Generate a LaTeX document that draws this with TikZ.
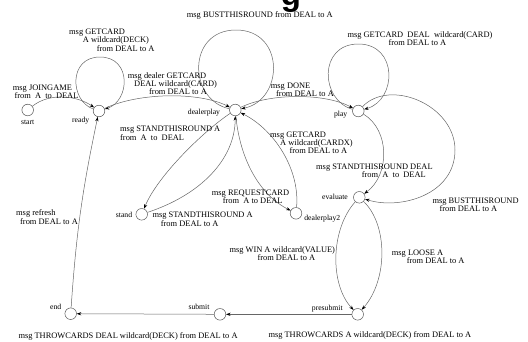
\documentclass[tikz,border=0pt]{standalone}
\usepackage{fontspec}
\setmainfont{Liberation Serif}
\newfontfamily\titlefont{Liberation Sans}
\usetikzlibrary{arrows.meta}
\begin{document}
\begin{tikzpicture}[x=1pt,y=-1pt,
  state/.style={circle,draw=black!65,line width=0.5pt,minimum size=11.6pt,inner sep=0pt},
  slabel/.style={font=\fontsize{7.7}{8}\selectfont,inner sep=0pt},
  lbl/.style={font=\fontsize{8.4}{8.4}\selectfont,inner sep=0pt,align=left,anchor=north west},
  edge/.style={draw=black!60,line width=0.5pt,-{Stealth[length=4.5pt,width=3.2pt,color=black]}}]
\useasboundingbox (0,0) rectangle (528,341);
\begin{scope}
\clip (0,0) rectangle (528,341);
\node[font=\titlefont\fontsize{33}{33}\selectfont\bfseries,anchor=base,inner sep=0pt] (title) at (291,5) {g};
\end{scope}

% states
\node[state] (start) at (27.7,110) {};
\node[state] (ready) at (99,111) {};
\node[state] (dealerplay) at (235.3,110) {};
\node[state] (play) at (358.3,111) {};
\node[state] (stand) at (141.7,214.3) {};
\node[state] (dealerplay2) at (296,213.3) {};
\node[state] (evaluate) at (359.3,197.3) {};
\node[state] (end) at (70.7,313.7) {};
\node[state] (submit) at (220,314.3) {};
\node[state] (presubmit) at (357.7,314.3) {};

% state names
\node[slabel] (n-start) at (27.7,122) {start};
\node[slabel] (n-ready) at (80.7,120.7) {ready};
\node[slabel] (n-dealerplay) at (204,112.3) {dealerplay};
\node[slabel] (n-play) at (340.7,114.3) {play};
\node[slabel] (n-stand) at (124,215) {stand};
\node[slabel] (n-dealerplay2) at (322.3,218.3) {dealerplay2};
\node[slabel] (n-evaluate) at (335,196.7) {evaluate};
\node[slabel] (n-end) at (55.7,307) {end};
\node[slabel] (n-submit) at (199,307) {submit};
\node[slabel] (n-presubmit) at (327.3,308.7) {presubmit};

% loop tops and helper points
\coordinate (readyTop) at (100,57);
\coordinate (dpTop) at (236,30);
\coordinate (playTop) at (358.3,44);
\coordinate (bigR) at (455,150);

% connectors
\draw[edge] (start) .. controls (50,92) and (78,96) .. (ready);
\draw[edge] (ready) .. controls (70,101) and (68,57) .. (readyTop) .. controls (132,57) and (130,101) .. (ready);
\draw[edge] (ready) .. controls (140,92) and (200,92) .. (dealerplay);
\draw[edge] (dealerplay) .. controls (188,100) and (186.7,30) .. (dpTop) .. controls (285.3,30) and (284,100) .. (dealerplay);
\draw[edge] (dealerplay) .. controls (270,93) and (325,93) .. (play);
\draw[edge] (play) .. controls (320,100) and (318.3,44) .. (playTop) .. controls (398.3,44) and (397,100) .. (play);
\draw[edge] (dealerplay) .. controls (205,130) and (158,175) .. (stand);
\draw[edge] (stand) .. controls (200,195) and (235,160) .. (dealerplay);
\draw[edge] (dealerplay) .. controls (240,160) and (260,195) .. (dealerplay2);
\draw[edge] (dealerplay2) .. controls (300,170) and (275,130) .. (dealerplay);
\draw[edge] (play) .. controls (390,130) and (390,175) .. (evaluate);
\draw[edge] (play) .. controls (390,78) and (455,105) .. (bigR) .. controls (455,195) and (400,210) .. (evaluate);
\draw[edge] (evaluate) .. controls (330,230) and (330,285) .. (presubmit);
\draw[edge] (evaluate) .. controls (388,225) and (388,280) .. (presubmit);
\draw[edge] (presubmit) -- (submit);
\draw[edge] (submit) -- (end);
\draw[edge] (end) to[bend left=4] (ready);

% connector labels
\node[lbl] (l-join) at (12.7,84.8) {msg JOINGAME\\\hspace*{1.6pt}from\ \ A\ \ to\ \ DEAL};
\node[lbl] (l-rloop) at (69,28.8) {msg GETCARD\\\hspace*{13.7pt}A wildcard(DECK)\\\hspace*{27.7pt}from DEAL to A};
\node[lbl] (l-rdp) at (127.7,72.1) {msg dealer GETCARD\\\hspace*{6.3pt}DEAL wildcard(CARD)\\\hspace*{21.3pt}from DEAL to A};
\node[lbl] (l-dploop) at (186.7,11.8) {msg BUSTTHISROUND from DEAL to A};
\node[lbl] (l-done) at (270.7,82.8) {msg DONE\\\hspace*{5.3pt}from DEAL to A};
\node[lbl] (l-ploop) at (347.3,31.4) {msg GETCARD\ \ DEAL\ \ wildcard(CARD)\\\hspace*{41pt}from DEAL to A};
\node[lbl] (l-dpst) at (120,126.1) {msg STANDTHISROUND A\\from\ \ A\ \ to\ \ DEAL};
\node[lbl] (l-dp2dp) at (270,131.4) {msg GETCARD\\\hspace*{10pt}A wildcard(CARDX)\\\hspace*{19.3pt}from DEAL to A};
\node[lbl] (l-peval) at (316,163.8) {msg STANDTHISROUND DEAL\\\hspace*{45.7pt}from\ \ A\ \ to\ \ DEAL};
\node[lbl] (l-req) at (211.7,189.8) {msg REQUESTCARD\\\hspace*{11pt}from\ \ A to DEAL};
\node[lbl] (l-stdp) at (152.3,212.1) {msg STANDTHISROUND A\\\hspace*{8.4pt}from DEAL to A};
\node[lbl] (l-bust) at (432.3,197.8) {msg BUSTTHISROUND\\\hspace*{7pt}from DEAL to A};
\node[lbl] (l-refresh) at (16,209.8) {msg refresh\\\hspace*{4pt}from DEAL to A};
\node[lbl] (l-win) at (229.3,246.1) {msg WIN A wildcard(VALUE)\\\hspace*{28pt}from DEAL to A};
\node[lbl] (l-loose) at (391.7,249.4) {msg LOOSE A\\\hspace*{15pt}from DEAL to A};
\node[lbl] (l-throwA) at (268.3,331.4) {msg THROWCARDS A wildcard(DECK) from DEAL to A};
\node[lbl] (l-throwD) at (18.3,332.1) {msg THROWCARDS DEAL wildcard(DECK) from DEAL to A};
\end{tikzpicture}
\end{document}
